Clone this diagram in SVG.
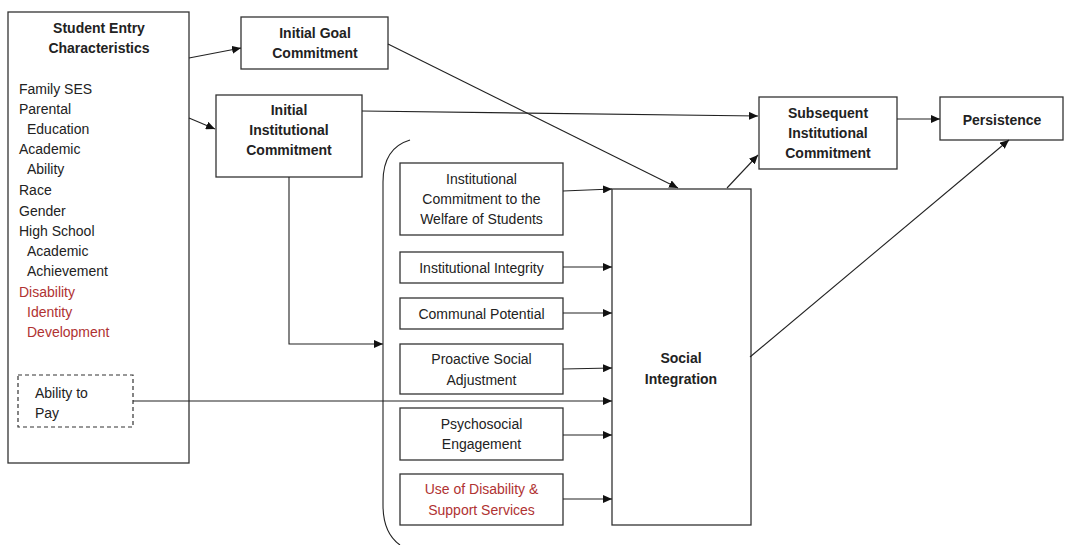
<svg xmlns="http://www.w3.org/2000/svg" width="1070" height="545" viewBox="0 0 1070 545">
<defs>
<marker id="ah" markerUnits="userSpaceOnUse" markerWidth="9" markerHeight="8" refX="9" refY="4" orient="auto">
<path d="M0,0 L9,4 L0,8 z" fill="#111"/>
</marker>
<style>
.box{fill:#fff;stroke:#333;stroke-width:1.3}
.dash{fill:#fff;stroke:#333;stroke-width:1.2;stroke-dasharray:4 3}
.t{font-family:"Liberation Sans",Arial,sans-serif;font-size:14px;fill:#222}
.b{font-weight:bold}
.c{text-anchor:middle}
.red{fill:#b03232}
.ln{fill:none;stroke:#222;stroke-width:1.1}
.arr{fill:none;stroke:#222;stroke-width:1.1;marker-end:url(#ah)}
</style>
</defs>
<rect width="1070" height="545" fill="#fff"/>

<g id="student-entry">
<rect class="box" x="8" y="12" width="181" height="451"/>
<text class="t b c" x="99" y="33">Student Entry</text>
<text class="t b c" x="99" y="53">Characteristics</text>
<text class="t" x="19" y="94">Family SES</text>
<text class="t" x="19" y="114">Parental</text>
<text class="t" x="27" y="134">Education</text>
<text class="t" x="19" y="154">Academic</text>
<text class="t" x="27" y="174">Ability</text>
<text class="t" x="19" y="195">Race</text>
<text class="t" x="19" y="216">Gender</text>
<text class="t" x="19" y="236">High School</text>
<text class="t" x="27" y="256">Academic</text>
<text class="t" x="27" y="276">Achievement</text>
<text class="t red" x="19" y="297">Disability</text>
<text class="t red" x="27" y="317">Identity</text>
<text class="t red" x="27" y="337">Development</text>
</g>

<g id="ability-to-pay">
<rect class="dash" x="18" y="375" width="115" height="52"/>
<text class="t" x="35" y="398">Ability to</text>
<text class="t" x="35" y="418">Pay</text>
</g>

<g id="initial-goal">
<rect class="box" x="241" y="17" width="147" height="52"/>
<text class="t b c" x="315" y="38">Initial Goal</text>
<text class="t b c" x="315" y="58">Commitment</text>
</g>

<g id="initial-institutional">
<rect class="box" x="216" y="95" width="146" height="82"/>
<text class="t b c" x="289" y="115">Initial</text>
<text class="t b c" x="289" y="135">Institutional</text>
<text class="t b c" x="289" y="155">Commitment</text>
</g>

<g id="subsequent">
<rect class="box" x="759" y="97" width="138" height="72"/>
<text class="t b c" x="828" y="118">Subsequent</text>
<text class="t b c" x="828" y="138">Institutional</text>
<text class="t b c" x="828" y="158">Commitment</text>
</g>

<g id="persistence">
<rect class="box" x="940" y="97" width="123" height="43"/>
<text class="t b c" x="1002" y="125">Persistence</text>
</g>

<g id="social-integration">
<rect class="box" x="612" y="189" width="139" height="336"/>
<text class="t b c" x="681" y="363">Social</text>
<text class="t b c" x="681" y="384">Integration</text>
</g>

<g id="welfare">
<rect class="box" x="400" y="163" width="163" height="72"/>
<text class="t c" x="481.5" y="184">Institutional</text>
<text class="t c" x="481.5" y="204">Commitment  to the</text>
<text class="t c" x="481.5" y="224">Welfare of Students</text>
</g>

<g id="integrity">
<rect class="box" x="400" y="252" width="163" height="31"/>
<text class="t c" x="481.5" y="273">Institutional Integrity</text>
</g>

<g id="communal">
<rect class="box" x="400" y="298" width="163" height="31"/>
<text class="t c" x="481.5" y="319">Communal  Potential</text>
</g>

<g id="proactive">
<rect class="box" x="400" y="344" width="163" height="50"/>
<text class="t c" x="481.5" y="364">Proactive Social</text>
<text class="t c" x="481.5" y="385">Adjustment</text>
</g>

<g id="psychosocial">
<rect class="box" x="400" y="408" width="163" height="52"/>
<text class="t c" x="481.5" y="429">Psychosocial</text>
<text class="t c" x="481.5" y="449">Engagement</text>
</g>

<g id="disability-services">
<rect class="box" x="400" y="474" width="163" height="51"/>
<text class="t c red" x="481.5" y="494">Use of Disability &amp;</text>
<text class="t c red" x="481.5" y="515">Support  Services</text>
</g>

<g id="connectors">
<line class="arr" x1="189" y1="58" x2="241" y2="48"/>
<line class="arr" x1="189" y1="118" x2="215" y2="129"/>
<line class="arr" x1="362" y1="111" x2="758" y2="116"/>
<line class="arr" x1="388" y1="44" x2="678" y2="188"/>
<line class="arr" x1="897" y1="119" x2="940" y2="119"/>
<line class="arr" x1="727" y1="188" x2="758" y2="155"/>
<line class="arr" x1="750" y1="357" x2="1009" y2="140"/>
<polyline class="arr" points="289,177 289,344 383,344"/>
<line class="arr" x1="133" y1="401" x2="612" y2="401"/>
<line class="arr" x1="563" y1="191" x2="612" y2="189"/>
<line class="arr" x1="563" y1="267" x2="612" y2="267"/>
<line class="arr" x1="563" y1="313" x2="612" y2="313"/>
<line class="arr" x1="563" y1="369" x2="612" y2="368"/>
<line class="arr" x1="563" y1="435" x2="612" y2="435"/>
<line class="arr" x1="563" y1="499" x2="612" y2="499"/>
<path class="ln" d="M410,140 Q383,148 383,182 L383,505 Q383,533 400,545"/>
</g>
</svg>
